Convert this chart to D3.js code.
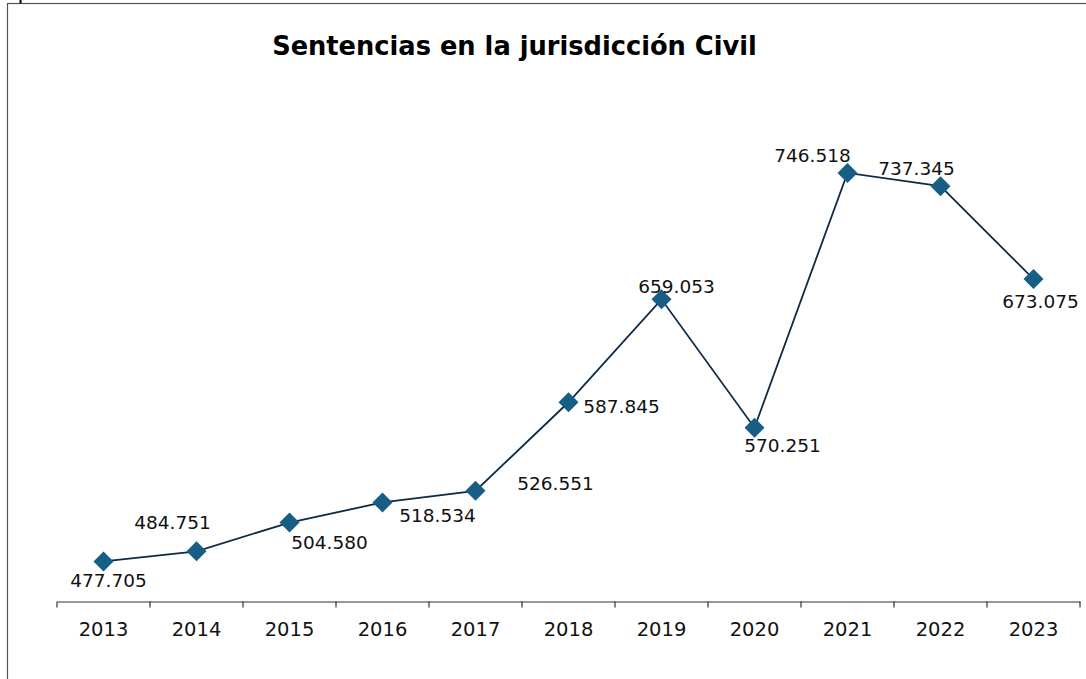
<!DOCTYPE html>
<html>
<head>
<meta charset="utf-8">
<script src="https://cdn.jsdelivr.net/npm/d3@7"></script>
<style>
  body { margin: 0; background: #fff; }
  svg { display: block; font-family: Verdana, "DejaVu Sans", sans-serif; }
</style>
</head>
<body>
<div id="chart"></div>
<script>
// Data
const years = ["2013", "2014", "2015", "2016", "2017", "2018", "2019", "2020", "2021", "2022", "2023"];
const sentencias = [477705, 484751, 504580, 518534, 526551, 587845, 659053, 570251, 746518, 737345, 673075];
// label placement relative to each marker (dx, dy of baseline centre)
const labelOffsets = [[5, 26], [-24, -22], [40, 26], [55, 20], [80, -1], [53, 11], [15, -6], [28, 24], [-35, -11], [-24, -11], [7, 29]];

const W = 1086, H = 679;
const margin = {top: 95.6, right: 6, bottom: 77, left: 57};

const svg = d3.select("#chart")
    .append("svg")
    .attr("width", W)
    .attr("height", H);

// frame
svg.append("rect")
    .attr("x", 7.5)
    .attr("y", 3.5)
    .attr("width", W + 20)
    .attr("height", H + 20)
    .attr("fill", "none")
    .attr("stroke", "#555")
    .attr("stroke-width", 1.2);

svg.append("line")
    .attr("x1", 20.5).attr("x2", 20.5)
    .attr("y1", 0).attr("y2", 3.5)
    .attr("stroke", "#000")
    .attr("stroke-width", 2);

// scales
const x = d3.scaleBand()
    .domain(years)
    .range([margin.left, W - margin.right]);

const y = d3.scaleLinear()
    .domain([450000, 800000])
    .range([H - margin.bottom - 0.5, margin.top]);

const es = d3.formatLocale({decimal: ",", thousands: ".", grouping: [3], currency: ["", " €"]});
const fmt = es.format(",d");

// title
svg.append("text")
    .attr("x", 514.5)
    .attr("y", 55)
    .attr("text-anchor", "middle")
    .style("font-weight", "bold")
    .style("font-size", "25.7px")
    .attr("fill", "#000")
    .text("Sentencias en la jurisdicción Civil");

// x axis
const axisY = y(450000);
const axis = svg.append("g")
    .attr("transform", `translate(0,${axisY})`)
    .call(d3.axisBottom(x).tickSize(0).tickPadding(21));
axis.select(".domain").attr("stroke", "#333").attr("stroke-width", 1.2);
axis.selectAll("text")
    .style("font-size", "19.5px")
    .style("font-family", "Verdana, 'DejaVu Sans', sans-serif")
    .attr("fill", "#111");

const bounds = years.map(d => x(d)).concat([x.range()[1]]);
axis.selectAll(".bound")
    .data(bounds)
    .join("line")
    .attr("class", "bound")
    .attr("x1", d => d).attr("x2", d => d)
    .attr("y1", 0).attr("y2", 6)
    .attr("stroke", "#333")
    .attr("stroke-width", 1.2);

// line
const cx = d => x(d) + x.bandwidth() / 2;
const line = d3.line()
    .x((d, i) => cx(years[i]))
    .y(d => y(d));

svg.append("path")
    .datum(sentencias)
    .attr("fill", "none")
    .attr("stroke", "#0e2a44")
    .attr("stroke-width", 1.8)
    .attr("d", line);

// markers
svg.selectAll(".marker")
    .data(sentencias)
    .join("path")
    .attr("class", "marker")
    .attr("d", d3.symbol(d3.symbolSquare, 200))
    .attr("transform", (d, i) => `translate(${cx(years[i])},${y(d)}) rotate(45)`)
    .attr("fill", "#165e83");

// labels
svg.selectAll(".label")
    .data(sentencias)
    .join("text")
    .attr("class", "label")
    .attr("x", (d, i) => cx(years[i]) + labelOffsets[i][0])
    .attr("y", (d, i) => y(d) + labelOffsets[i][1])
    .attr("text-anchor", "middle")
    .style("font-size", "18.5px")
    .attr("fill", "#111")
    .text(d => fmt(d));
</script>
</body>
</html>
